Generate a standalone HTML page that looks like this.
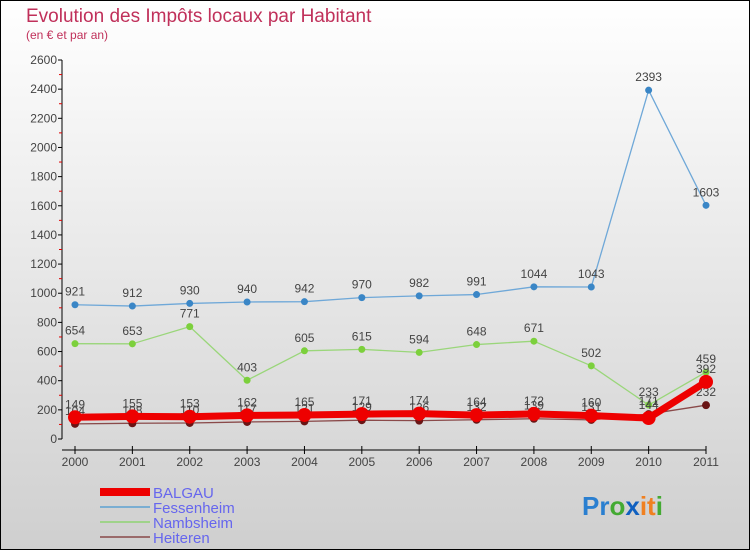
<!DOCTYPE html>
<html><head><meta charset="utf-8"><style>
body{margin:0;}
#c{width:750px;height:550px;position:relative;overflow:hidden;}
svg{display:block;font-family:"Liberation Sans",sans-serif;}
</style></head><body>
<div id="c">
<svg id="s" width="750" height="550">
<defs><linearGradient id="bg" x1="0" y1="0" x2="0" y2="1"><stop offset="0" stop-color="#ffffff"/><stop offset="1" stop-color="#cfcfcf"/></linearGradient></defs>
<rect x="0.5" y="0.5" width="749" height="549" fill="url(#bg)" stroke="#000"/>
<text x="26" y="22" font-size="19" fill="#c0305a">Evolution des Impôts locaux par Habitant</text>
<text x="26" y="39" font-size="12" fill="#c0305a">(en € et par an)</text>
<g id="axes"></g><g id="series"></g>
<g>
<line x1="100" y1="492" x2="150" y2="492" stroke="#ee0000" stroke-width="8"/>
<text x="153" y="498" font-size="15" fill="#6666ee">BALGAU</text>
<line x1="100" y1="507" x2="150" y2="507" stroke="#7aaed2" stroke-width="2"/>
<text x="153" y="513" font-size="15" fill="#6666ee">Fessenheim</text>
<line x1="100" y1="522" x2="150" y2="522" stroke="#9fd38a" stroke-width="2"/>
<text x="153" y="528" font-size="15" fill="#6666ee">Nambsheim</text>
<line x1="100" y1="537" x2="150" y2="537" stroke="#9a6a6a" stroke-width="2"/>
<text x="153" y="543" font-size="15" fill="#6666ee">Heiteren</text>
</g>
<text x="582" y="515" font-size="26" font-weight="bold"><tspan fill="#2a7fd0">Pr</tspan><tspan fill="#44aa33">o</tspan><tspan fill="#1060c0">x</tspan><tspan fill="#f08020">it</tspan><tspan fill="#44aa33">i</tspan></text>
</svg></div>
<script>
const years=["2000","2001","2002","2003","2004","2005","2006","2007","2008","2009","2010","2011"];
const yTicks=[0,200,400,600,800,1000,1200,1400,1600,1800,2000,2200,2400,2600];
const balgau=[149,155,153,162,165,171,174,164,172,160,144,392];
const fessenheim=[921,912,930,940,942,970,982,991,1044,1043,2393,1603];
const nambsheim=[654,653,771,403,605,615,594,648,671,502,233,459];
const heiteren=[104,108,110,117,121,129,126,132,139,131,171,232];
const NS="http://www.w3.org/2000/svg";
function xS(i){return 75+i*(706-75)/11;}
function yS(v){return 439-v*(439-60)/2600;}
function mk(t,a,p){const e=document.createElementNS(NS,t);for(const k in a)e.setAttribute(k,a[k]);(p||document.getElementById('series')).appendChild(e);return e;}
const ax=document.getElementById('axes');
let e=mk('line',{x1:62,y1:yS(0),x2:62,y2:yS(2600),stroke:'#000'},ax);


e=mk('line',{x1:62,y1:450,x2:706,y2:450,stroke:'#000'},ax);


yTicks.forEach((v,i)=>{
 mk('line',{x1:58,y1:yS(v),x2:62,y2:yS(v),stroke:'#000'},ax);
 if(i<yTicks.length-1) mk('line',{x1:59,y1:yS(v+100),x2:62,y2:yS(v+100),stroke:'#e00000'},ax);
 const t=mk('text',{x:57,y:yS(v)+4,'font-size':12,'text-anchor':'end',fill:'#444'},ax);
 t.textContent=v;
 
 
});
years.forEach((y,i)=>{
 mk('line',{x1:xS(i),y1:446,x2:xS(i),y2:454,stroke:'#000'},ax);
 const t=mk('text',{x:xS(i),y:466,'font-size':12,'text-anchor':'middle',fill:'#444'},ax);
 t.textContent=y;
 
 
});
function series(name,data,col,w,r,mcol){
 const g=mk('g',{});
 
 
 const pl=mk('polyline',{points:data.map((v,i)=>xS(i)+','+yS(v)).join(' '),fill:'none',stroke:col,'stroke-width':w,'stroke-linejoin':'round'},g);
 
 
 data.forEach((v,i)=>{
  const c=mk('circle',{cx:xS(i),cy:yS(v),r:r,fill:mcol},g);
  
  
  const t=mk('text',{x:xS(i),y:yS(v)-9,'font-size':12,'text-anchor':'middle',fill:'#444'},g);
  t.textContent=v;
  
  
 });
}
series('fessenheim',fessenheim,'#6fa8d8',1.3,3.5,'#3a86c6');
series('nambsheim',nambsheim,'#9ad67a',1.3,3.5,'#7cd03c');
series('heiteren',heiteren,'#8a4a4a',1.3,4,'#6a1515');
series('balgau',balgau,'#ee0000',7,7,'#ee0000');
</script>
</body></html>
